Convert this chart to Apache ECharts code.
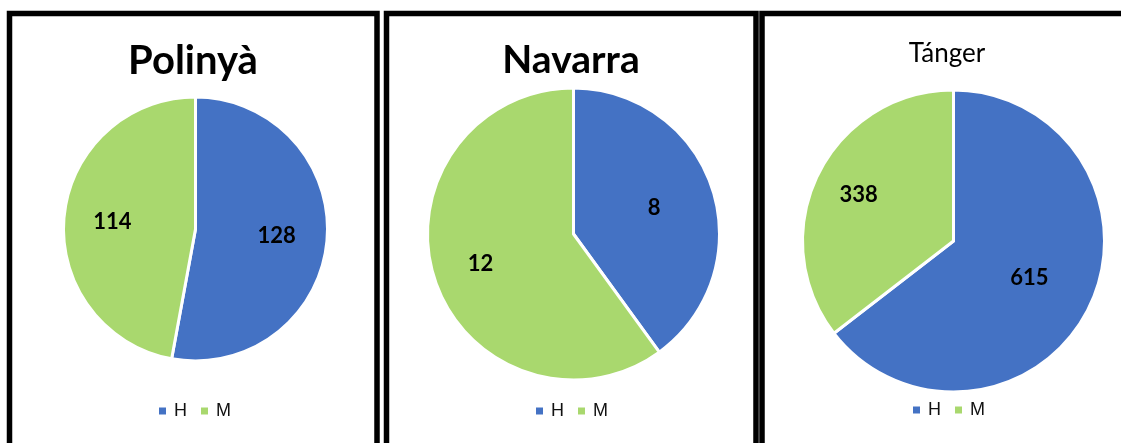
<!DOCTYPE html>
<html>
<head>
<meta charset="utf-8">
<script src="https://cdn.jsdelivr.net/npm/echarts@6/dist/echarts.min.js"></script>
<style>
  html, body { margin: 0; padding: 0; background: #ffffff; }
  #chart { width: 1121px; height: 443px; }
</style>
</head>
<body>
<div id="chart"></div>
<script>
// ---- data ----
const panelTitles = ['Polinyà', 'Navarra', 'Tánger'];
const categories = ['H', 'M'];
const polinyaValues = [128, 114];
const navarraValues = [8, 12];
const tangerValues = [615, 338];
const panelValues = [polinyaValues, navarraValues, tangerValues];

// ---- styling / layout ----
const colors = ['#4472C4', '#A9D86E'];
const clear = 'rgba(0,0,0,0)';
const pieCenters = [[195.5, 229], [573.5, 234], [953.5, 241]];
const pieRadii = [132, 146, 151];
const labelFrac = [[0.595, 0.61], [0.56, 0.65], [0.54, 0.68]];
const titleX = [188, 566, 942];
const titleStyles = [
  { fontSize: 40, fontWeight: 'bold', top: 36 },
  { fontSize: 39, fontWeight: 'bold', top: 36 },
  { fontSize: 26, fontWeight: 'normal', top: 36 }
];
const legendLeft = [152, 529, 906];
const legendTop = [397, 397, 396];
const panelRects = [
  { x: 9.5, w: 367.5 },
  { x: 386.5, w: 369.5 },
  { x: 762, w: 500 }
];

const chart = echarts.init(document.getElementById('chart'), null, { renderer: 'canvas' });

const series = [];
const titles = [];
const legends = [];

panelValues.forEach((vals, p) => {
  const data = categories.map((c, i) => ({ name: c, value: vals[i] }));
  series.push({
    type: 'pie',
    name: panelTitles[p],
    center: pieCenters[p],
    radius: [0, pieRadii[p]],
    startAngle: 90,
    clockwise: true,
    color: colors,
    silent: true,
    z: 2,
    itemStyle: { borderColor: '#ffffff', borderWidth: 3 },
    label: { show: false },
    labelLine: { show: false },
    emphasis: { disabled: true },
    data: data.map((d, i) => ({ name: d.name, value: d.value, itemStyle: { color: colors[i] } }))
  });
  // transparent label rings so each value label sits where the reference has it
  categories.forEach((c, i) => {
    series.push({
      type: 'pie',
      name: panelTitles[p] + ' label ' + c,
      center: pieCenters[p],
      radius: [0, 2 * labelFrac[p][i] * pieRadii[p]],
      startAngle: 90,
      clockwise: true,
      silent: true,
      z: 3,
      itemStyle: { color: clear, borderWidth: 0 },
      emphasis: { disabled: true },
      labelLine: { show: false },
      label: {
        show: true,
        position: 'inside',
        formatter: (prm) => (prm.dataIndex === i ? String(prm.value) : ''),
        color: '#000000',
        fontFamily: 'Lato',
        fontWeight: 'bold',
        fontSize: 22,
        textBorderWidth: 0
      },
      data: data.map((d) => ({ name: d.name, value: d.value, itemStyle: { color: clear } }))
    });
  });
  titles.push({
    text: panelTitles[p],
    left: titleX[p],
    top: titleStyles[p].top,
    textAlign: 'center',
    textStyle: {
      fontFamily: 'Lato',
      fontSize: titleStyles[p].fontSize,
      fontWeight: titleStyles[p].fontWeight,
      color: '#000000'
    }
  });
  legends.push({
    data: categories.map((c, i) => ({ name: c, itemStyle: { color: colors[i] } })),
    left: legendLeft[p],
    top: legendTop[p],
    z: 10,
    orient: 'horizontal',
    icon: 'rect',
    itemWidth: 9,
    itemHeight: 9,
    itemGap: 12,
    selectedMode: false,
    textStyle: {
      fontFamily: 'Liberation Sans',
      fontSize: 18,
      color: '#111111',
      padding: [0, 0, 0, 2]
    }
  });
});

const graphics = panelRects.map((r) => ({
  type: 'rect',
  shape: { x: r.x, y: 13.5, width: r.w, height: 520 },
  style: { fill: 'none', stroke: '#000000', lineWidth: 5.5 },
  z: 100,
  silent: true
}));

chart.setOption({
  backgroundColor: '#ffffff',
  animation: false,
  title: titles,
  legend: legends,
  tooltip: { show: false },
  graphic: graphics,
  series: series
});
</script>
</body>
</html>
